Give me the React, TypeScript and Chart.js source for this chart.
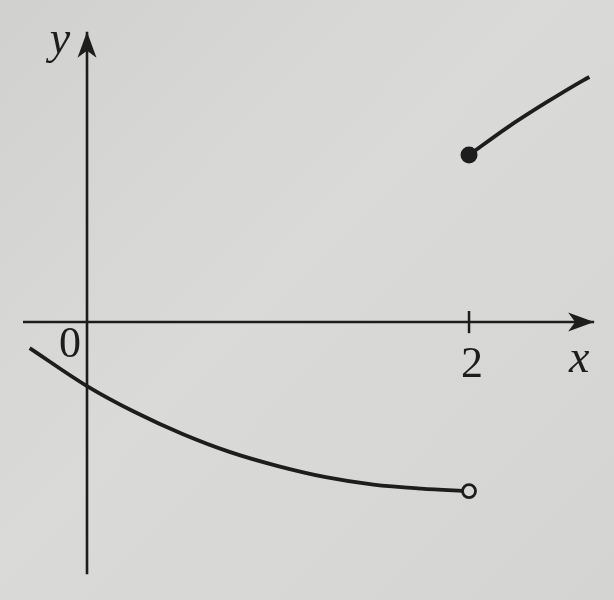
import React, { useEffect, useRef } from "react";
import { Chart, registerables } from "chart.js";

Chart.register(...registerables);

// Curve for x < 2 (ends in an open circle at x = 2)
const lowerX = [-0.3, 0, 0.25, 0.5, 0.75, 1, 1.25, 1.5, 1.75, 2];
const lowerY = [-0.136, -0.335, -0.471, -0.586, -0.681, -0.754, -0.812, -0.851, -0.872, -0.885];

// Curve for x >= 2 (starts with a filled dot at x = 2)
const upperX = [2, 2.2, 2.4, 2.6, 2.63];
const upperY = [0.874, 1.018, 1.147, 1.267, 1.283];

// Axes and tick
const xAxisRange = [-0.335, 2.655];
const yAxisRange = [-1.32, 1.52];
const xTicks = [2];
const xTickLabels = ["2"];
const originLabel = "0";
const xAxisName = "x";
const yAxisName = "y";

const view = { xMin: -0.4555, xMax: 2.759, yMin: -1.455, yMax: 1.686 };

const INK = "#1d1d1d";
const SERIF = "'Liberation Serif', 'Times New Roman', serif";

function arrowHead(ctx: CanvasRenderingContext2D, tx: number, ty: number, angle: number) {
  const len = 26, half = 9.5, notch = 7;
  ctx.save();
  ctx.translate(tx, ty);
  ctx.rotate(angle);
  ctx.beginPath();
  ctx.moveTo(0, 0);
  ctx.lineTo(-len, -half);
  ctx.lineTo(-len + notch, 0);
  ctx.lineTo(-len, half);
  ctx.closePath();
  ctx.fillStyle = INK;
  ctx.fill();
  ctx.restore();
}

const paperPlugin = {
  id: "paper",
  beforeDraw(chart: any) {
    const { ctx, width, height } = chart;
    ctx.save();
    const g = ctx.createLinearGradient(0, 0, width, height);
    g.addColorStop(0, "#d1d1cf");
    g.addColorStop(0.45, "#dadad8");
    g.addColorStop(1, "#d4d4d2");
    ctx.fillStyle = g;
    ctx.fillRect(0, 0, width, height);
    ctx.restore();
  },
};

const decorPlugin = {
  id: "decor",
  afterDraw(chart: any) {
    const { ctx } = chart;
    const xs = chart.scales.x;
    const ys = chart.scales.y;
    const x0 = xs.getPixelForValue(0);
    const y0 = ys.getPixelForValue(0);
    const xTip = xs.getPixelForValue(xAxisRange[1]);
    const yTip = ys.getPixelForValue(yAxisRange[1]);

    arrowHead(ctx, xTip, y0, 0);
    arrowHead(ctx, x0, yTip, -Math.PI / 2);

    ctx.save();
    ctx.fillStyle = INK;
    ctx.textAlign = "center";
    ctx.textBaseline = "alphabetic";
    ctx.font = `44px ${SERIF}`;
    ctx.fillText(originLabel, x0 - 17, y0 + 35);
    xTicks.forEach((t, i) => {
      ctx.fillText(xTickLabels[i], xs.getPixelForValue(t) + 3, y0 + 55);
    });
    ctx.font = `italic 46px ${SERIF}`;
    ctx.fillText(xAxisName, xTip - 15, y0 + 50);
    ctx.fillText(yAxisName, x0 - 27, yTip + 21);
    ctx.restore();
  },
};

export default function App() {
  const ref = useRef<HTMLCanvasElement | null>(null);

  useEffect(() => {
    if (!ref.current) return;
    const lower = lowerX.map((x, i) => ({ x, y: lowerY[i] }));
    const upper = upperX.map((x, i) => ({ x, y: upperY[i] }));
    const xAxis = xAxisRange.map((x) => ({ x, y: 0 }));
    const yAxis = yAxisRange.map((y) => ({ x: 0, y }));
    const tickSets = xTicks.map((t) => ({
      data: [{ x: t, y: -0.058 }, { x: t, y: 0.058 }],
      showLine: true,
      borderColor: INK,
      borderWidth: 2.5,
      pointRadius: 0,
    }));

    const chart = new Chart(ref.current, {
      type: "scatter",
      data: {
        datasets: [
          {
            data: upper,
            showLine: true,
            borderColor: INK,
            borderWidth: 3.8,
            cubicInterpolationMode: "monotone",
            pointRadius: upper.map((_, i) => (i === 0 ? 8.5 : 0)),
            pointBackgroundColor: INK,
            pointBorderColor: INK,
            pointBorderWidth: 0,
          },
          {
            data: lower,
            showLine: true,
            borderColor: INK,
            borderWidth: 3.8,
            cubicInterpolationMode: "monotone",
            pointRadius: lower.map((_, i) => (i === lower.length - 1 ? 6.5 : 0)),
            pointBackgroundColor: "#d8d8d6",
            pointBorderColor: INK,
            pointBorderWidth: 2.8,
          },
          {
            data: xAxis,
            showLine: true,
            borderColor: INK,
            borderWidth: 2.6,
            pointRadius: 0,
          },
          {
            data: yAxis,
            showLine: true,
            borderColor: INK,
            borderWidth: 2.6,
            pointRadius: 0,
          },
          ...tickSets,
        ] as any,
      },
      options: {
        animation: false,
        responsive: false,
        maintainAspectRatio: false,
        devicePixelRatio: 1,
        layout: { padding: 0, autoPadding: false },
        events: [],
        plugins: {
          legend: { display: false },
          tooltip: { enabled: false },
        },
        scales: {
          x: { type: "linear", display: false, min: view.xMin, max: view.xMax },
          y: { type: "linear", display: false, min: view.yMin, max: view.yMax },
        },
      } as any,
      plugins: [paperPlugin, decorPlugin],
    });
    return () => chart.destroy();
  }, []);

  return (
    <div style={{ position: "fixed", left: 0, top: 0, width: 614, height: 600 }}>
      <canvas ref={ref} width={614} height={600} style={{ display: "block" }} />
    </div>
  );
}
